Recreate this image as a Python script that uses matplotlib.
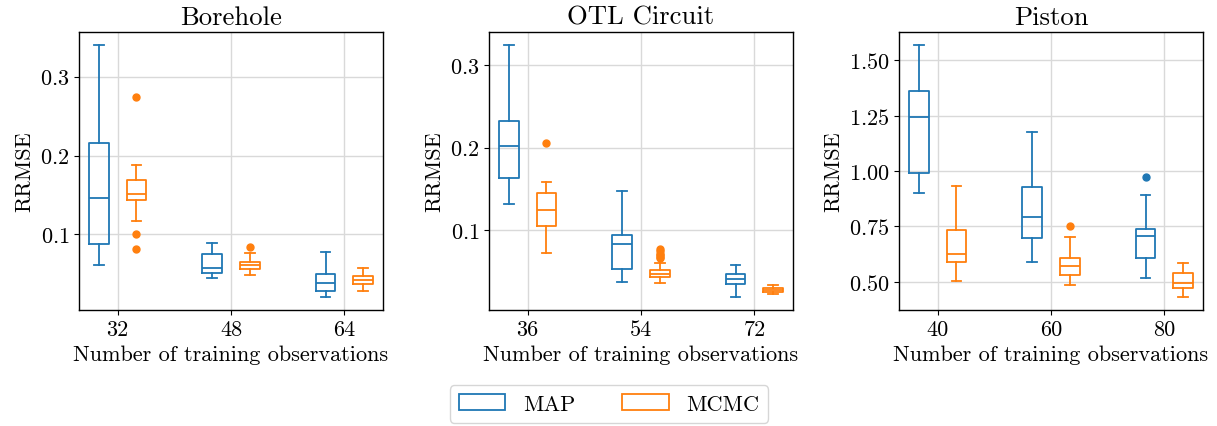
import matplotlib
matplotlib.use("Agg")
import matplotlib.pyplot as plt
from matplotlib.patches import Patch

plt.rcParams.update({
    "font.family": "serif",
    "font.serif": ["cmr10"],
    "mathtext.fontset": "cm",
    "axes.formatter.use_mathtext": True,
    "font.size": 16,
})

titles = ["Borehole", "OTL Circuit", "Piston"]
n_obs = [[32, 48, 64], [36, 54, 72], [40, 60, 80]]
methods = ["MAP", "MCMC"]
colors = ["#1f77b4", "#ff7f0e"]

# box statistics per panel, per method, per training size
# Borehole
bore_map_whislo = [0.0614, 0.0453, 0.0203]
bore_map_q1 = [0.0880, 0.0508, 0.0288]
bore_map_med = [0.1457, 0.0580, 0.0385]
bore_map_q3 = [0.2160, 0.0754, 0.0496]
bore_map_whishi = [0.3405, 0.0898, 0.0775]
bore_map_fliers = [[], [], []]
bore_mcmc_whislo = [0.1165, 0.0487, 0.0288]
bore_mcmc_q1 = [0.1440, 0.0559, 0.0372]
bore_mcmc_med = [0.1508, 0.0614, 0.0423]
bore_mcmc_q3 = [0.1694, 0.0652, 0.0474]
bore_mcmc_whishi = [0.1877, 0.0766, 0.0580]
bore_mcmc_fliers = [[0.274, 0.1004, 0.0817], [0.0835], []]

# OTL Circuit
otl_map_whislo = [0.1322, 0.0374, 0.0183]
otl_map_q1 = [0.1627, 0.0524, 0.0350]
otl_map_med = [0.2021, 0.0829, 0.0407]
otl_map_q3 = [0.2322, 0.0939, 0.0468]
otl_map_whishi = [0.3252, 0.1476, 0.0582]
otl_map_fliers = [[], [], []]
otl_mcmc_whislo = [0.0716, 0.0362, 0.0220]
otl_mcmc_q1 = [0.1049, 0.0427, 0.0249]
otl_mcmc_med = [0.1240, 0.0468, 0.0273]
otl_mcmc_q3 = [0.1456, 0.0517, 0.0301]
otl_mcmc_whishi = [0.1582, 0.0602, 0.0338]
otl_mcmc_fliers = [[0.2061], [0.0765, 0.0740, 0.0715, 0.0695, 0.0675, 0.0660], []]

# Piston
pist_map_whislo = [0.9024, 0.5876, 0.5181]
pist_map_q1 = [0.9915, 0.6951, 0.6089]
pist_map_med = [1.2427, 0.7917, 0.7057]
pist_map_q3 = [1.3620, 0.9265, 0.7391]
pist_map_whishi = [1.5708, 1.1746, 0.8902]
pist_map_fliers = [[], [], [0.9732]]
pist_mcmc_whislo = [0.5030, 0.4864, 0.4288]
pist_mcmc_q1 = [0.5876, 0.5286, 0.4696]
pist_mcmc_med = [0.6270, 0.5712, 0.4941]
pist_mcmc_q3 = [0.7328, 0.6057, 0.5408]
pist_mcmc_whishi = [0.9325, 0.6996, 0.5862]
pist_mcmc_fliers = [[], [0.7527], []]

panels = [
    [(bore_map_whislo, bore_map_q1, bore_map_med, bore_map_q3, bore_map_whishi, bore_map_fliers),
     (bore_mcmc_whislo, bore_mcmc_q1, bore_mcmc_med, bore_mcmc_q3, bore_mcmc_whishi, bore_mcmc_fliers)],
    [(otl_map_whislo, otl_map_q1, otl_map_med, otl_map_q3, otl_map_whishi, otl_map_fliers),
     (otl_mcmc_whislo, otl_mcmc_q1, otl_mcmc_med, otl_mcmc_q3, otl_mcmc_whishi, otl_mcmc_fliers)],
    [(pist_map_whislo, pist_map_q1, pist_map_med, pist_map_q3, pist_map_whishi, pist_map_fliers),
     (pist_mcmc_whislo, pist_mcmc_q1, pist_mcmc_med, pist_mcmc_q3, pist_mcmc_whishi, pist_mcmc_fliers)],
]

W, H = 1217, 427
fig = plt.figure(figsize=(W / 100, H / 100), dpi=100)
lefts = [79, 489, 899]
ax_w, ax_top, ax_bot = 304, 33, 311

for p in range(3):
    ax = fig.add_axes([lefts[p] / W, 1 - ax_bot / H, ax_w / W, (ax_bot - ax_top) / H])
    xs = n_obs[p]
    step = xs[1] - xs[0]
    for m in range(2):
        wl, q1, med, q3, wh, fl = panels[p][m]
        stats = [dict(whislo=wl[i], q1=q1[i], med=med[i], q3=q3[i], whishi=wh[i], fliers=fl[i])
                 for i in range(3)]
        off = -step / 6 if m == 0 else step / 6
        pos = [x + off for x in xs]
        c = colors[m]
        ax.bxp(stats, positions=pos, widths=step * 0.175, showfliers=True,
               boxprops=dict(color=c, linewidth=1.3),
               medianprops=dict(color=c, linewidth=1.3),
               whiskerprops=dict(color=c, linewidth=1.3),
               capprops=dict(color=c, linewidth=1.3),
               flierprops=dict(marker="o", markerfacecolor=c, markeredgecolor=c, markersize=5),
               manage_ticks=False)
    ax.set_xlim(xs[0] - 0.34 * step, xs[-1] + 0.34 * step)
    ax.set_xticks(xs)
    ax.set_xticklabels([str(x) for x in xs])
    ax.grid(True, color="#d9d9d9", linewidth=1.0)
    ax.set_axisbelow(True)
    ax.set_title(titles[p], fontsize=19.2)
    ax.set_xlabel("Number of training observations", fontsize=16)
    ax.set_ylabel("RRMSE", fontsize=16)
    for s in ax.spines.values():
        s.set_linewidth(1.0)

handles = [Patch(facecolor="none", edgecolor=colors[i], linewidth=1.3, label=methods[i]) for i in range(2)]
fig.legend(handles=handles, loc="center", bbox_to_anchor=(609 / W, 1 - 405 / H), ncol=2,
           frameon=True, fontsize=16, handlelength=2.1, handletextpad=0.8, columnspacing=2.1,
           edgecolor="#cccccc", fancybox=True)

fig.savefig("out.png", dpi=100)
